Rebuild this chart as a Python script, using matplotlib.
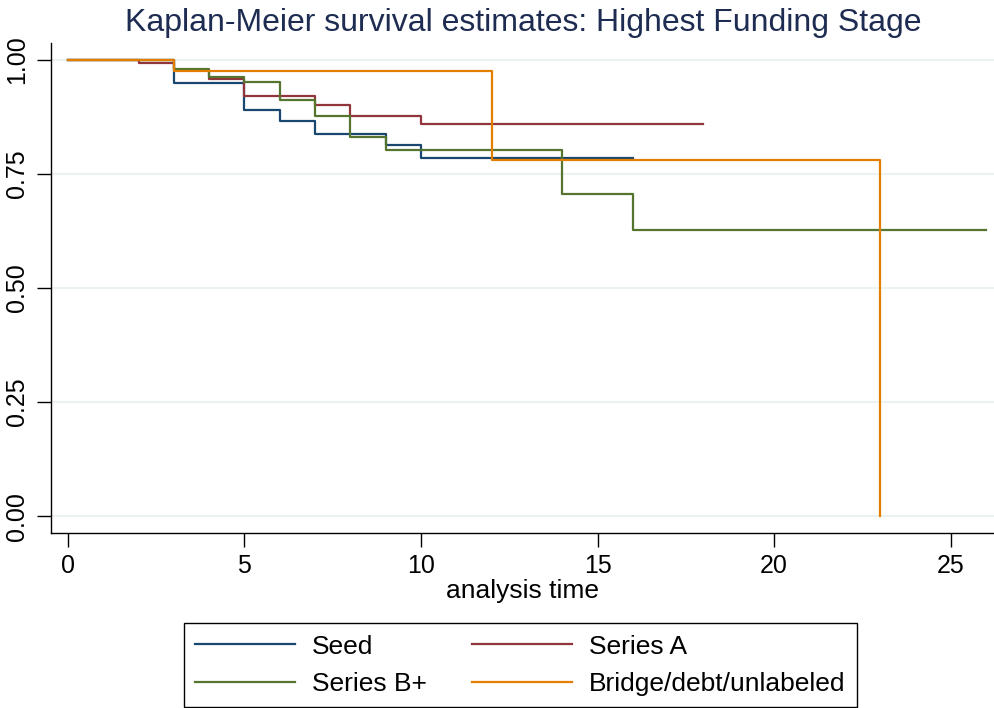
import matplotlib
matplotlib.use("Agg")
import matplotlib.pyplot as plt
from matplotlib.lines import Line2D

# Kaplan-Meier step estimates
seed_t = [0, 3, 5, 6, 7, 9, 10, 16]
seed_s = [1.0, 0.949, 0.890, 0.866, 0.837, 0.813, 0.784, 0.784]

series_a_t = [0, 2, 3, 4, 5, 7, 8, 10, 18]
series_a_s = [1.0, 0.994, 0.978, 0.958, 0.921, 0.901, 0.877, 0.859, 0.859]

series_b_t = [0, 3, 4, 5, 6, 7, 8, 9, 14, 16, 26]
series_b_s = [1.0, 0.981, 0.963, 0.952, 0.912, 0.878, 0.830, 0.803, 0.706, 0.628, 0.628]

bridge_t = [0, 3, 12, 23]
bridge_s = [1.0, 0.975, 0.780, 0.0]

labels = ["Seed", "Series A", "Series B+", "Bridge/debt/unlabeled"]
colors = ["#1a476f", "#90353b", "#55752f", "#e37e00"]

x_ticks = [0, 5, 10, 15, 20, 25]
y_ticks = [0.0, 0.25, 0.5, 0.75, 1.0]
y_tick_labels = ["0.00", "0.25", "0.50", "0.75", "1.00"]

plt.rcParams["font.family"] = ["Liberation Sans", "DejaVu Sans"]

fig = plt.figure(figsize=(9.94, 7.08), dpi=100)
ax = fig.add_axes([0.0513, 0.2472, 0.9487, 0.6921])

series = [(seed_t, seed_s), (series_a_t, series_a_s), (series_b_t, series_b_s), (bridge_t, bridge_s)]
for (t, s), lab, c in zip(series, labels, colors):
    ax.plot(t, s, drawstyle="steps-post", color=c, linewidth=1.6, label=lab, zorder=3)

ax.set_xlim(-0.48, 26.23)
ax.set_ylim(-0.037, 1.037)
ax.set_xticks(x_ticks)
ax.set_yticks(y_ticks)
ax.set_yticklabels(y_tick_labels, rotation=90, va="center")
ax.tick_params(axis="both", labelsize=18, length=10, width=1, color="black")
ax.tick_params(axis="x", pad=5)
ax.tick_params(axis="y", pad=6)
ax.grid(axis="y", color="#eaf2f3", linewidth=1.5, zorder=0)
ax.set_axisbelow(True)
for side in ["top", "right"]:
    ax.spines[side].set_visible(False)
for side in ["left", "bottom"]:
    ax.spines[side].set_linewidth(1)
    ax.spines[side].set_color("black")

ax.set_xlabel("analysis time", fontsize=19, labelpad=1)
fig.text(0.526, 0.968, "Kaplan-Meier survival estimates: Highest Funding Stage",
         ha="center", va="center", fontsize=23, color="#1e2c52")

handles = [Line2D([0], [0], color=c, linewidth=1.6) for c in colors]
order = [0, 2, 1, 3]
leg = fig.legend([handles[i] for i in order], [labels[i] for i in order],
                 ncol=2, loc="center", bbox_to_anchor=(0.5236, 0.0605),
                 fontsize=19, frameon=True, fancybox=False, edgecolor="black",
                 handlelength=3.79, handletextpad=0.65, columnspacing=1.7,
                 borderpad=0.42, labelspacing=0.5, framealpha=1)
leg.get_frame().set_linewidth(1)

fig.savefig("out.png", dpi=100)
